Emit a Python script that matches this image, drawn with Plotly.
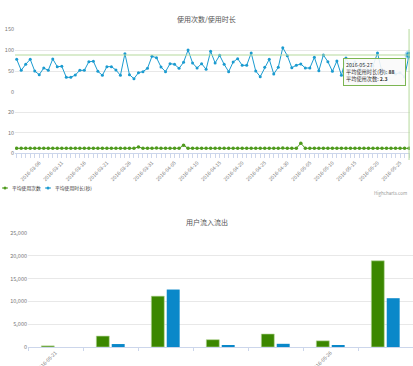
import pandas as pd
import plotly.graph_objects as go

W, H = 413, 366
def px(x): return x / W
def py(y): return 1 - y / H

# ---------------- data ----------------
dates = pd.date_range("2016-03-01", "2016-05-27", freq="D")
avg_count = [2.3, 2.3, 2.35, 2.3, 2.3, 2.35, 2.3, 2.3, 2.35, 2.3,
             2.3, 2.3, 2.35, 2.3, 2.3, 2.3, 2.3, 2.35, 2.3, 2.3,
             2.3, 2.3, 2.3, 2.3, 2.35, 2.3, 2.3, 2.95, 2.3, 2.35,
             2.3, 2.4, 2.3, 2.3, 2.3, 2.3, 2.3, 3.8, 2.3, 2.3,
             2.3, 2.3, 2.3, 2.3, 2.35, 2.3, 2.3, 2.3, 2.3, 2.3,
             2.3, 2.3, 2.35, 2.3, 2.3, 2.3, 2.3, 2.3, 2.3, 2.4,
             2.35, 2.3, 2.3, 4.8, 2.3, 2.3, 2.35, 2.3, 2.3, 2.3,
             2.3, 2.3, 2.35, 2.3, 2.3, 2.3, 2.3, 2.3, 2.3, 2.3,
             2.35, 2.3, 2.3, 2.3, 2.3, 2.3, 2.3, 2.3]
avg_duration = [77.8, 51.6, 65.9, 77.8, 50.0, 41.3, 57.1, 51.6, 78.6, 60.3,
                61.1, 34.9, 34.9, 40.5, 51.6, 51.6, 72.2, 73.0, 49.2, 39.7,
                60.3, 60.3, 52.4, 39.7, 91.3, 41.3, 31.7, 46.0, 48.4, 56.3,
                84.9, 81.7, 59.5, 48.4, 67.5, 65.9, 56.3, 70.6, 100.0, 69.0,
                57.1, 67.5, 54.0, 96.8, 69.0, 87.3, 65.9, 48.4, 71.4, 79.4,
                63.5, 63.5, 92.9, 50.0, 36.5, 58.7, 77.8, 42.9, 58.7, 105.6,
                86.5, 57.9, 63.5, 66.7, 57.1, 57.1, 82.5, 50.8, 88.1, 72.2,
                49.2, 73.8, 39.7, 81.0, 60.0, 72.0, 55.0, 68.0, 50.0, 62.0,
                92.9, 48.0, 44.0, 47.0, 43.0, 46.0, 36.0, 88.1]

top_count_ticks = [0, 10, 20]
top_count_labels = ["0", "10", "20"]
top_dur_ticks = [0, 50, 100, 150]
top_dur_labels = ["0", "50", "100", "150"]

flow_categories = ["2016-05-21", "2016-05-22", "2016-05-23", "2016-05-24",
                   "2016-05-25", "2016-05-26", "2016-05-27"]
flow_in = [250, 2400, 11150, 1600, 2850, 1350, 18900]
flow_out = [0, 650, 12600, 300, 700, 250, 10700]
flow_ticks = [0, 5000, 10000, 15000, 20000, 25000]
flow_labels = ["0", "5,000", "10,000", "15,000", "20,000", "25,000"]

series_names = ["平均使用次数", "平均使用时长(秒)"]

GREEN_LINE = "#4e9a1c"
BLUE_LINE = "#1b9bd0"
GREEN_BAR = "#3b8700"
BLUE_BAR = "#0a88c9"
GRID = "#e8e8e8"
AXIS = "#ccd6eb"
FONT = "Noto Sans CJK SC, DejaVu Sans, sans-serif"

fig = go.Figure()

fig.add_trace(go.Scatter(
    x=dates, y=avg_count, name=series_names[0], mode="lines+markers",
    line=dict(color=GREEN_LINE, width=1), marker=dict(color=GREEN_LINE, size=3.5),
    showlegend=False, xaxis="x", yaxis="y"))
fig.add_trace(go.Scatter(
    x=dates, y=avg_duration, name=series_names[1], mode="lines+markers",
    line=dict(color=BLUE_LINE, width=1), marker=dict(color=BLUE_LINE, size=3),
    showlegend=False, xaxis="x", yaxis="y2"))
# hovered point highlight
fig.add_trace(go.Scatter(
    x=[dates[-1]], y=[avg_duration[-1]], mode="markers", showlegend=False,
    marker=dict(color=BLUE_LINE, size=6, line=dict(color="rgba(27,155,208,0.35)", width=3)),
    xaxis="x", yaxis="y2"))

fig.add_trace(go.Bar(x=flow_categories, y=flow_in,
                     marker=dict(color=GREEN_BAR, line=dict(width=0.6, color="#b9d99a")),
                     showlegend=False, xaxis="x2", yaxis="y3"))
fig.add_trace(go.Bar(x=flow_categories, y=flow_out,
                     marker=dict(color=BLUE_BAR, line=dict(width=0)),
                     showlegend=False, xaxis="x2", yaxis="y3"))

tick_font = dict(family=FONT, size=5.5, color="#777")

fig.update_layout(
    width=W, height=H, margin=dict(l=0, r=0, t=0, b=0, autoexpand=False),
    paper_bgcolor="white", plot_bgcolor="white",
    font=dict(family=FONT),
    barmode="group", bargap=0.44, bargroupgap=0.16,
    showlegend=False,
    xaxis=dict(domain=[px(15), px(410)], anchor="y", type="date", automargin=False,
               range=["2016-02-29 15:00", "2016-05-27 05:00"],
               tick0="2016-03-01", dtick=5 * 86400000, tickformat="%Y-%m-%d",
               tickangle=-45, tickfont=dict(family=FONT, size=5, color="#777"), showgrid=False,
               showline=True, linecolor=AXIS, linewidth=1,
               ticks="outside", ticklen=4, tickcolor=AXIS,
               minor=dict(ticks="outside", dtick=86400000, ticklen=4, tickcolor=AXIS, showgrid=False)),
    yaxis=dict(domain=[py(153), py(92)], anchor="x", range=[0, 30], automargin=False,
               tickvals=top_count_ticks, ticktext=top_count_labels, tickfont=tick_font,
               showgrid=True, gridcolor=GRID, zeroline=False, ticks=""),
    yaxis2=dict(domain=[py(92), py(29)], anchor="x", range=[0, 150], automargin=False,
                tickvals=top_dur_ticks, ticktext=top_dur_labels, tickfont=tick_font,
                showgrid=True, gridcolor=GRID, zeroline=False, ticks=""),
    xaxis2=dict(domain=[px(28), 1.0], anchor="y3", type="category", range=[-0.5, 6.5],
                automargin=False, tickvals=flow_categories,
                ticktext=[c if i % 5 == 0 else "" for i, c in enumerate(flow_categories)],
                tickangle=-45, tickfont=dict(family=FONT, size=5, color="#777"), showgrid=False,
                showline=True, linecolor=AXIS, linewidth=1,
                ticks="outside", ticklen=3, tickcolor=AXIS, tickson="boundaries"),
    yaxis3=dict(domain=[py(347), py(233)], anchor="x2", range=[0, 25000], automargin=False,
                tickvals=flow_ticks, ticktext=flow_labels, tickfont=tick_font,
                showgrid=True, gridcolor=GRID, zeroline=False, ticks=""),
)

# crosshairs at hovered point
fig.add_shape(type="line", xref="x", yref="paper", x0=dates[-1], x1=dates[-1],
              y0=py(160), y1=py(29), line=dict(color="#b5d99c", width=1))
fig.add_shape(type="line", xref="paper", yref="y2", x0=px(15), x1=px(410),
              y0=avg_duration[-1], y1=avg_duration[-1], line=dict(color="#b5d99c", width=1))

# manual compact legend (Highcharts style)
legend_items = [(5, GREEN_LINE, series_names[0]), (48, BLUE_LINE, series_names[1])]
for lx, col, name in legend_items:
    fig.add_shape(type="line", xref="paper", yref="paper", x0=px(lx - 3), x1=px(lx + 3),
                  y0=py(188), y1=py(188), line=dict(color=col, width=1))
    fig.add_shape(type="circle", xref="paper", yref="paper", x0=px(lx - 1.5), x1=px(lx + 1.5),
                  y0=py(186.5), y1=py(189.5), fillcolor=col, line=dict(color=col, width=0))
    fig.add_annotation(text=name, xref="paper", yref="paper", x=px(lx + 5), y=py(188),
                       xanchor="left", yanchor="middle", showarrow=False,
                       font=dict(family=FONT, size=4.8, color="#333"))

# titles
fig.add_annotation(text="使用次数/使用时长", xref="paper", yref="paper", x=0.5, y=py(19),
                   xanchor="center", yanchor="middle",
                   showarrow=False, font=dict(family=FONT, size=7, color="#555"))
fig.add_annotation(text="用户流入流出", xref="paper", yref="paper", x=0.5, y=py(222),
                   xanchor="center", yanchor="middle",
                   showarrow=False, font=dict(family=FONT, size=7, color="#555"))
fig.add_annotation(text="Highcharts.com", xref="paper", yref="paper", x=px(409), y=py(193),
                   xanchor="right", yanchor="middle",
                   showarrow=False, font=dict(family=FONT, size=4.5, color="#999"))

# tooltip
fig.add_annotation(
    text=("2016-05-27<br>平均使用时长(秒): <b>%.0f</b><br>平均使用次数: <b>%.1f</b>"
          % (avg_duration[-1], avg_count[-1])),
    xref="paper", yref="paper", x=px(343), y=py(58), xanchor="left", yanchor="top",
    align="left", showarrow=False, font=dict(family=FONT, size=5.2, color="#333"),
    bgcolor="rgba(250,250,250,0.9)", bordercolor="#7cb552", borderwidth=1, borderpad=2,
    width=57)

fig.write_html("out.html", post_script="document.body.style.margin='0';",
               config={"displayModeBar": False})
